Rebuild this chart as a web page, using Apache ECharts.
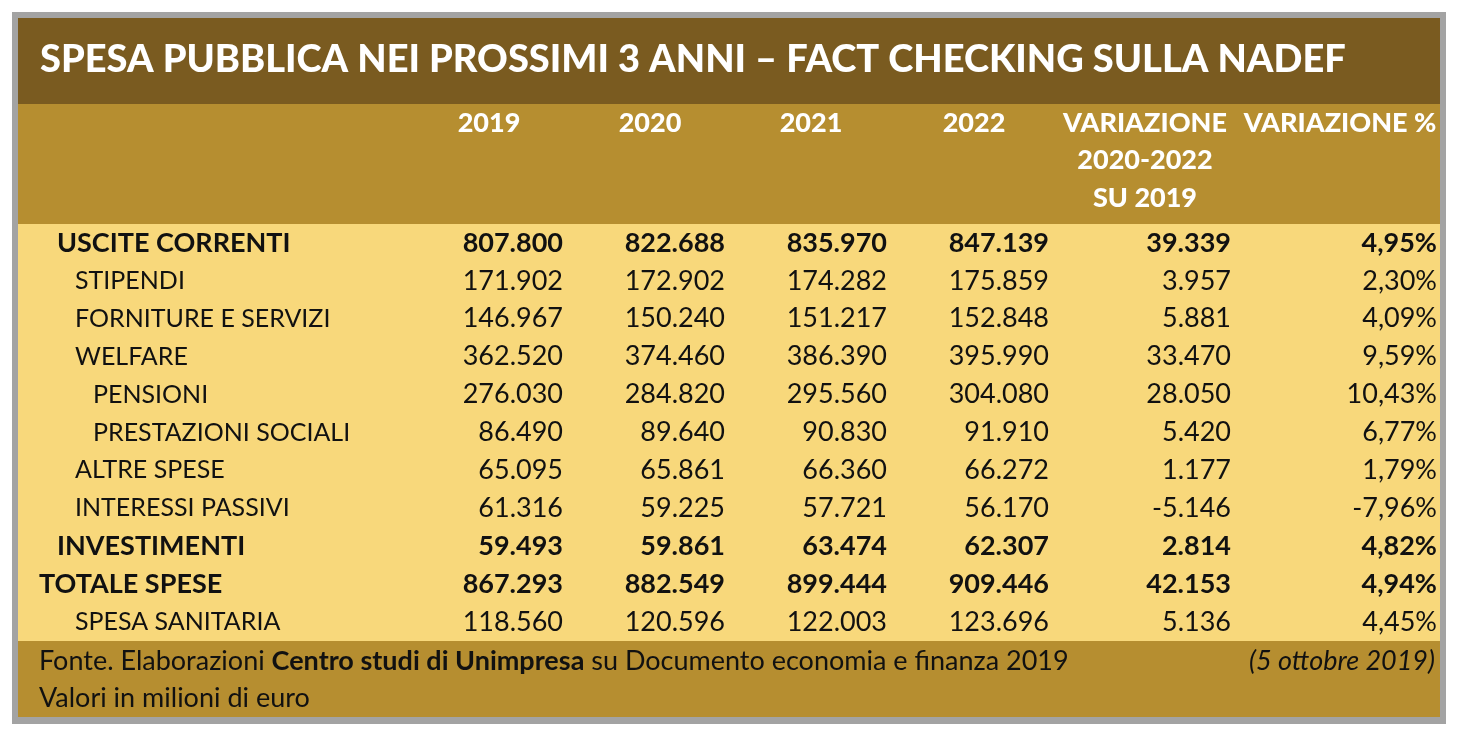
<!DOCTYPE html>
<html><head><meta charset="utf-8">
<script src="https://cdn.jsdelivr.net/npm/echarts@6/dist/echarts.min.js"></script>
<style>html,body{margin:0;padding:0;background:#fff;}#c{width:1464px;height:740px;}</style>
</head><body><div id="c"></div>
<script>
const title = 'SPESA PUBBLICA NEI PROSSIMI 3 ANNI – FACT CHECKING SULLA NADEF';
const headers = [['2019'], ['2020'], ['2021'], ['2022'], ['VARIAZIONE', '2020-2022', 'SU 2019'], ['VARIAZIONE %']];
const rows = ['USCITE CORRENTI','STIPENDI','FORNITURE E SERVIZI','WELFARE','PENSIONI','PRESTAZIONI SOCIALI','ALTRE SPESE','INTERESSI PASSIVI','INVESTIMENTI','TOTALE SPESE','SPESA SANITARIA'];
const rowLevel = [1,2,2,2,3,3,2,2,1,0,2];
const rowBold = [1,0,0,0,0,0,0,0,1,1,0];
const v2019 = [807800,171902,146967,362520,276030,86490,65095,61316,59493,867293,118560];
const v2020 = [822688,172902,150240,374460,284820,89640,65861,59225,59861,882549,120596];
const v2021 = [835970,174282,151217,386390,295560,90830,66360,57721,63474,899444,122003];
const v2022 = [847139,175859,152848,395990,304080,91910,66272,56170,62307,909446,123696];
const varAbs = [39339,3957,5881,33470,28050,5420,1177,-5146,2814,42153,5136];
const varPct = [4.95,2.30,4.09,9.59,10.43,6.77,1.79,-7.96,4.82,4.94,4.45];
const sourceText = ['Fonte. Elaborazioni ', 'Centro studi di Unimpresa', ' su Documento economia e finanza 2019'];
const dateText = '(5 ottobre 2019)';
const unitText = 'Valori in milioni di euro';

const columns = [v2019, v2020, v2021, v2022, varAbs, varPct];
function fmtInt(n){ const s = Math.abs(n).toString().replace(/\B(?=(\d{3})+(?!\d))/g, '.'); return (n<0?'-':'')+s; }
function fmtPct(n){ return n.toFixed(2).replace('.', ',') + '%'; }

// layout
const FONT = 'Lato, "Noto Sans", sans-serif';
const COL_RIGHT = [563, 725, 887, 1049, 1231, 1437];
const HEAD_CENTER = [489, 650, 811, 974, 1145, 1340];
const INDENT_X = [39, 57, 75, 93];
const GRID = {left: 18, top: 224, right: 24, bottom: 99};

const cellData = [];
rows.forEach((r, ri) => { cellData.push([-1, ri]); columns.forEach((col, ci) => cellData.push([ci, ri])); });

const chart = echarts.init(document.getElementById('c'), null, {renderer: 'canvas'});

const graphics = [
  {type:'rect', shape:{x:12,y:12,width:1434,height:712}, style:{fill:'#a3a3a3'}, z:-10},
  {type:'rect', shape:{x:18,y:18,width:1422,height:86}, style:{fill:'#7a5b20'}, z:-9},
  {type:'rect', shape:{x:18,y:104,width:1422,height:120}, style:{fill:'#b68e30'}, z:-9},
  {type:'rect', shape:{x:18,y:224,width:1422,height:417}, style:{fill:'#f8d87b'}, z:-9},
  {type:'rect', shape:{x:18,y:641,width:1422,height:76}, style:{fill:'#b68e30'}, z:-9},
  {type:'text', x:40, y:60, style:{text:title, fill:'#fff', font:'900 38px '+FONT, textVerticalAlign:'middle'}}
];
headers.forEach((lines, i) => {
  lines.forEach((ln, j) => {
    graphics.push({type:'text', x:HEAD_CENTER[i], y:123 + j*37.5, style:{text:ln, fill:'#fff', font:'900 27px '+FONT, textAlign:'center', textVerticalAlign:'middle'}});
  });
});
graphics.push({type:'text', x:39, y:661, style:{
  text:'{n|'+sourceText[0]+'}{b|'+sourceText[1]+'}{n|'+sourceText[2]+'}',
  textVerticalAlign:'middle',
  rich:{n:{font:'400 27px '+FONT, fill:'#111'}, b:{font:'700 27px '+FONT, fill:'#111'}}
}});
graphics.push({type:'text', x:1435, y:661, style:{text:dateText, fill:'#111', font:'italic 400 27px '+FONT, textAlign:'right', textVerticalAlign:'middle'}});
graphics.push({type:'text', x:39, y:698, style:{text:unitText, fill:'#111', font:'400 27px '+FONT, textVerticalAlign:'middle'}});

chart.setOption({
  animation:false,
  grid: GRID,
  xAxis:{type:'value', min:-1, max:6, show:false},
  yAxis:{type:'category', data:rows, inverse:true, show:false},
  graphic: graphics,
  series:[{
    type:'custom',
    data: cellData,
    renderItem: function(params, api){
      const c = api.value(0), r = api.value(1);
      const y = api.coord([0, r])[1];
      const bold = rowBold[r];
      let text, x, align, size;
      if (c < 0) { text = rows[r]; x = INDENT_X[rowLevel[r]]; align = 'left'; size = bold ? 27 : 25; }
      else { const val = columns[c][r]; text = c === 5 ? fmtPct(val) : fmtInt(val); x = COL_RIGHT[c]; align = 'right'; size = 27; }
      return {type:'text', style:{x:x, y:y, text:text, fill:'#111', font: (bold ? '700 ' : '400 ') + size + 'px ' + FONT, textAlign:align, textVerticalAlign:'middle'}};
    }
  }]
});
</script></body></html>
